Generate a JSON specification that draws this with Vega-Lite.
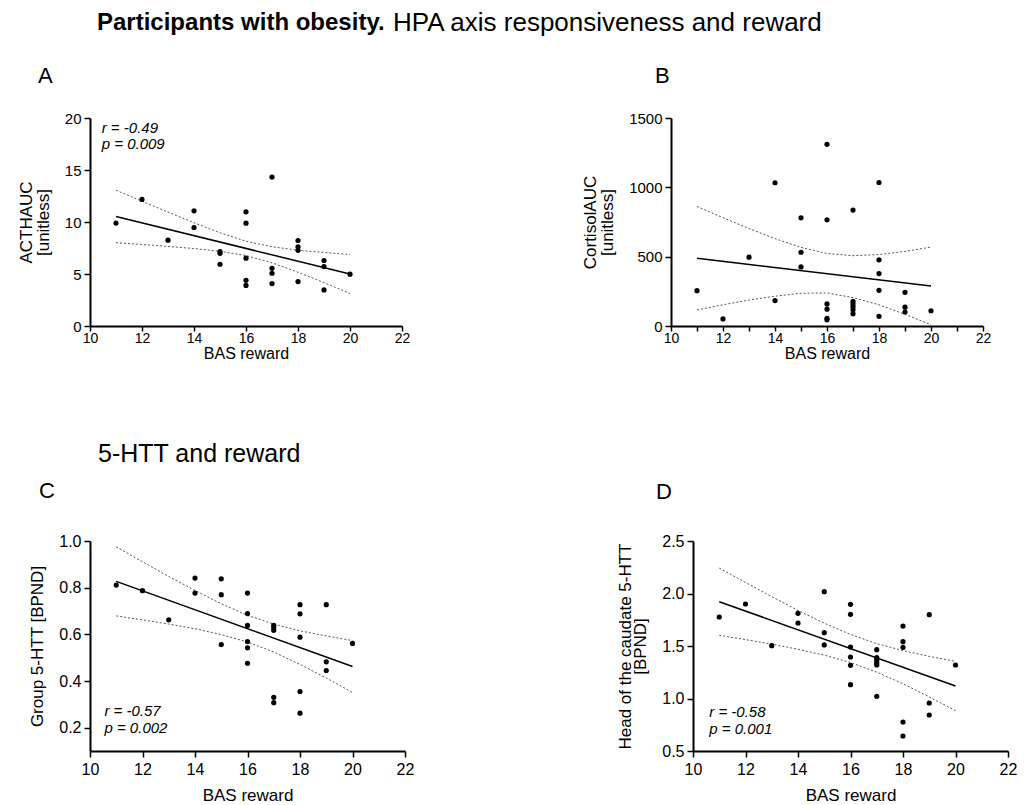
{
  "$schema": "https://vega.github.io/schema/vega-lite/v6.json",
  "padding": {"left": 17, "top": 10, "right": 5, "bottom": 5},
  "config": {
    "font": "Liberation Sans",
    "view": {"stroke": null},
    "axis": {"domainColor": "#000", "domainWidth": 2, "tickColor": "#000", "tickWidth": 1.5, "tickSize": 6, "labelColor": "#000", "titleColor": "#000", "labelFontSize": 15, "titleFontSize": 17, "titleFontWeight": "normal", "grid": false, "labelFlush": false, "labelOverlap": false, "labelPadding": 3},
    "title": {"color": "#000", "fontWeight": "normal", "anchor": "start", "frame": "group"}
  },
  "datasets": {
    "notes": [
      {"panel": "A", "t": "r = -0.49\np = 0.009"},
      {"panel": "C", "t": "r = -0.57\np = 0.002"},
      {"panel": "D", "t": "r = -0.58\np = 0.001"}
    ],
    "A": [
      {"x": 11, "y": 9.9, "s": "pt"}, {"x": 12, "y": 12.17, "s": "pt"}, {"x": 13, "y": 8.25, "s": "pt"},
      {"x": 14, "y": 11.07, "s": "pt"}, {"x": 14, "y": 9.47, "s": "pt"},
      {"x": 15, "y": 7.16, "s": "pt"}, {"x": 15, "y": 6.97, "s": "pt"}, {"x": 15, "y": 5.94, "s": "pt"},
      {"x": 16, "y": 10.98, "s": "pt"}, {"x": 16, "y": 9.89, "s": "pt"}, {"x": 16, "y": 6.52, "s": "pt"}, {"x": 16, "y": 4.4, "s": "pt"}, {"x": 16, "y": 3.9, "s": "pt"},
      {"x": 17, "y": 14.32, "s": "pt"}, {"x": 17, "y": 5.55, "s": "pt"}, {"x": 17, "y": 5.07, "s": "pt"}, {"x": 17, "y": 4.08, "s": "pt"},
      {"x": 18, "y": 8.22, "s": "pt"}, {"x": 18, "y": 7.61, "s": "pt"}, {"x": 18, "y": 7.28, "s": "pt"}, {"x": 18, "y": 4.27, "s": "pt"},
      {"x": 19, "y": 6.3, "s": "pt"}, {"x": 19, "y": 5.71, "s": "pt"}, {"x": 19, "y": 3.47, "s": "pt"},
      {"x": 20, "y": 4.98, "s": "pt"},
      {"x": 11, "y": 10.53, "s": "fit"}, {"x": 20, "y": 5.0, "s": "fit"},
      {"x": 11, "y": 8.01, "s": "lo"}, {"x": 12, "y": 7.84, "s": "lo"}, {"x": 13, "y": 7.65, "s": "lo"}, {"x": 14, "y": 7.45, "s": "lo"}, {"x": 15, "y": 7.18, "s": "lo"}, {"x": 16, "y": 6.77, "s": "lo"}, {"x": 17, "y": 6.08, "s": "lo"}, {"x": 18, "y": 5.17, "s": "lo"}, {"x": 19, "y": 4.17, "s": "lo"}, {"x": 20, "y": 3.13, "s": "lo"},
      {"x": 11, "y": 13.05, "s": "hi"}, {"x": 12, "y": 12.0, "s": "hi"}, {"x": 13, "y": 10.95, "s": "hi"}, {"x": 14, "y": 9.93, "s": "hi"}, {"x": 15, "y": 8.96, "s": "hi"}, {"x": 16, "y": 8.15, "s": "hi"}, {"x": 17, "y": 7.62, "s": "hi"}, {"x": 18, "y": 7.29, "s": "hi"}, {"x": 19, "y": 7.07, "s": "hi"}, {"x": 20, "y": 6.87, "s": "hi"}
    ],
    "B": [
      {"x": 11, "y": 255, "s": "pt"}, {"x": 12, "y": 51, "s": "pt"}, {"x": 13, "y": 496, "s": "pt"},
      {"x": 14, "y": 1033, "s": "pt"}, {"x": 14, "y": 183, "s": "pt"},
      {"x": 15, "y": 780, "s": "pt"}, {"x": 15, "y": 532, "s": "pt"}, {"x": 15, "y": 426, "s": "pt"},
      {"x": 16, "y": 1310, "s": "pt"}, {"x": 16, "y": 766, "s": "pt"}, {"x": 16, "y": 159, "s": "pt"}, {"x": 16, "y": 121, "s": "pt"}, {"x": 16, "y": 55, "s": "pt"}, {"x": 16, "y": 45, "s": "pt"},
      {"x": 17, "y": 836, "s": "pt"}, {"x": 17, "y": 178, "s": "pt"}, {"x": 17, "y": 160, "s": "pt"}, {"x": 17, "y": 140, "s": "pt"}, {"x": 17, "y": 118, "s": "pt"}, {"x": 17, "y": 88, "s": "pt"},
      {"x": 18, "y": 1035, "s": "pt"}, {"x": 18, "y": 477, "s": "pt"}, {"x": 18, "y": 378, "s": "pt"}, {"x": 18, "y": 257, "s": "pt"}, {"x": 18, "y": 70, "s": "pt"},
      {"x": 19, "y": 243, "s": "pt"}, {"x": 19, "y": 136, "s": "pt"}, {"x": 19, "y": 101, "s": "pt"},
      {"x": 20, "y": 110, "s": "pt"},
      {"x": 11, "y": 489, "s": "fit"}, {"x": 20, "y": 289, "s": "fit"},
      {"x": 11, "y": 116, "s": "lo"}, {"x": 12, "y": 153, "s": "lo"}, {"x": 13, "y": 187, "s": "lo"}, {"x": 14, "y": 215, "s": "lo"}, {"x": 15, "y": 236, "s": "lo"}, {"x": 16, "y": 238, "s": "lo"}, {"x": 17, "y": 205, "s": "lo"}, {"x": 18, "y": 153, "s": "lo"}, {"x": 19, "y": 84, "s": "lo"}, {"x": 20, "y": 9, "s": "lo"},
      {"x": 11, "y": 862, "s": "hi"}, {"x": 12, "y": 781, "s": "hi"}, {"x": 13, "y": 703, "s": "hi"}, {"x": 14, "y": 630, "s": "hi"}, {"x": 15, "y": 567, "s": "hi"}, {"x": 16, "y": 523, "s": "hi"}, {"x": 17, "y": 507, "s": "hi"}, {"x": 18, "y": 515, "s": "hi"}, {"x": 19, "y": 538, "s": "hi"}, {"x": 20, "y": 569, "s": "hi"}
    ],
    "C": [
      {"x": 11, "y": 0.811, "s": "pt"}, {"x": 12, "y": 0.787, "s": "pt"}, {"x": 13, "y": 0.662, "s": "pt"},
      {"x": 14, "y": 0.841, "s": "pt"}, {"x": 14, "y": 0.777, "s": "pt"},
      {"x": 15, "y": 0.838, "s": "pt"}, {"x": 15, "y": 0.77, "s": "pt"}, {"x": 15, "y": 0.556, "s": "pt"},
      {"x": 16, "y": 0.777, "s": "pt"}, {"x": 16, "y": 0.689, "s": "pt"}, {"x": 16, "y": 0.638, "s": "pt"}, {"x": 16, "y": 0.569, "s": "pt"}, {"x": 16, "y": 0.542, "s": "pt"}, {"x": 16, "y": 0.476, "s": "pt"},
      {"x": 17, "y": 0.639, "s": "pt"}, {"x": 17, "y": 0.629, "s": "pt"}, {"x": 17, "y": 0.617, "s": "pt"}, {"x": 17, "y": 0.33, "s": "pt"}, {"x": 17, "y": 0.307, "s": "pt"},
      {"x": 18, "y": 0.727, "s": "pt"}, {"x": 18, "y": 0.688, "s": "pt"}, {"x": 18, "y": 0.588, "s": "pt"}, {"x": 18, "y": 0.355, "s": "pt"}, {"x": 18, "y": 0.262, "s": "pt"},
      {"x": 19, "y": 0.727, "s": "pt"}, {"x": 19, "y": 0.482, "s": "pt"}, {"x": 19, "y": 0.445, "s": "pt"},
      {"x": 20, "y": 0.561, "s": "pt"},
      {"x": 11, "y": 0.827, "s": "fit"}, {"x": 20, "y": 0.462, "s": "fit"},
      {"x": 11, "y": 0.679, "s": "lo"}, {"x": 12, "y": 0.662, "s": "lo"}, {"x": 13, "y": 0.644, "s": "lo"}, {"x": 14, "y": 0.624, "s": "lo"}, {"x": 15, "y": 0.599, "s": "lo"}, {"x": 16, "y": 0.567, "s": "lo"}, {"x": 17, "y": 0.524, "s": "lo"}, {"x": 18, "y": 0.471, "s": "lo"}, {"x": 19, "y": 0.413, "s": "lo"}, {"x": 20, "y": 0.351, "s": "lo"},
      {"x": 11, "y": 0.975, "s": "hi"}, {"x": 12, "y": 0.911, "s": "hi"}, {"x": 13, "y": 0.848, "s": "hi"}, {"x": 14, "y": 0.788, "s": "hi"}, {"x": 15, "y": 0.731, "s": "hi"}, {"x": 16, "y": 0.681, "s": "hi"}, {"x": 17, "y": 0.644, "s": "hi"}, {"x": 18, "y": 0.615, "s": "hi"}, {"x": 19, "y": 0.593, "s": "hi"}, {"x": 20, "y": 0.573, "s": "hi"}
    ],
    "D": [
      {"x": 11, "y": 1.776, "s": "pt"}, {"x": 12, "y": 1.9, "s": "pt"}, {"x": 13, "y": 1.503, "s": "pt"},
      {"x": 14, "y": 1.811, "s": "pt"}, {"x": 14, "y": 1.719, "s": "pt"},
      {"x": 15, "y": 2.017, "s": "pt"}, {"x": 15, "y": 1.627, "s": "pt"}, {"x": 15, "y": 1.51, "s": "pt"},
      {"x": 16, "y": 1.897, "s": "pt"}, {"x": 16, "y": 1.802, "s": "pt"}, {"x": 16, "y": 1.49, "s": "pt"}, {"x": 16, "y": 1.395, "s": "pt"}, {"x": 16, "y": 1.316, "s": "pt"}, {"x": 16, "y": 1.132, "s": "pt"},
      {"x": 17, "y": 1.465, "s": "pt"}, {"x": 17, "y": 1.389, "s": "pt"}, {"x": 17, "y": 1.363, "s": "pt"}, {"x": 17, "y": 1.338, "s": "pt"}, {"x": 17, "y": 1.319, "s": "pt"}, {"x": 17, "y": 1.021, "s": "pt"},
      {"x": 18, "y": 1.69, "s": "pt"}, {"x": 18, "y": 1.541, "s": "pt"}, {"x": 18, "y": 1.487, "s": "pt"}, {"x": 18, "y": 0.776, "s": "pt"}, {"x": 18, "y": 0.643, "s": "pt"},
      {"x": 19, "y": 1.798, "s": "pt"}, {"x": 19, "y": 0.957, "s": "pt"}, {"x": 19, "y": 0.843, "s": "pt"},
      {"x": 20, "y": 1.319, "s": "pt"},
      {"x": 11, "y": 1.922, "s": "fit"}, {"x": 20, "y": 1.119, "s": "fit"},
      {"x": 11, "y": 1.602, "s": "lo"}, {"x": 12, "y": 1.561, "s": "lo"}, {"x": 13, "y": 1.518, "s": "lo"}, {"x": 14, "y": 1.469, "s": "lo"}, {"x": 15, "y": 1.413, "s": "lo"}, {"x": 16, "y": 1.342, "s": "lo"}, {"x": 17, "y": 1.251, "s": "lo"}, {"x": 18, "y": 1.14, "s": "lo"}, {"x": 19, "y": 1.015, "s": "lo"}, {"x": 20, "y": 0.884, "s": "lo"},
      {"x": 11, "y": 2.242, "s": "hi"}, {"x": 12, "y": 2.105, "s": "hi"}, {"x": 13, "y": 1.97, "s": "hi"}, {"x": 14, "y": 1.839, "s": "hi"}, {"x": 15, "y": 1.717, "s": "hi"}, {"x": 16, "y": 1.61, "s": "hi"}, {"x": 17, "y": 1.523, "s": "hi"}, {"x": 18, "y": 1.456, "s": "hi"}, {"x": 19, "y": 1.401, "s": "hi"}, {"x": 20, "y": 1.354, "s": "hi"}
    ]
  },
  "title": {"text": "Participants with obesity.", "fontWeight": "bold", "fontSize": 24, "dx": 7, "offset": -44, "baseline": "alphabetic"},
  "bounds": "flush",
  "spacing": 423,
  "vconcat": [
    {
      "title": {"text": "HPA axis responsiveness and reward", "fontSize": 26, "dx": 303, "offset": 8, "baseline": "alphabetic"},
      "bounds": "flush",
      "spacing": 269,
      "hconcat": [
        {
          "width": 312, "height": 208,
          "title": {"text": "A", "fontSize": 22, "dx": -52, "offset": 6, "baseline": "alphabetic"},
          "layer": [
            {
              "data": {"name": "A"},
              "encoding": {
                "x": {"field": "x", "type": "quantitative", "scale": {"domain": [10, 22], "nice": false, "zero": false}, "axis": {"title": "BAS reward", "values": [10, 11, 12, 13, 14, 15, 16, 17, 18, 19, 20, 21, 22], "labelExpr": "datum.value % 2 == 0 ? datum.label : ''", "tickSize": 5, "labelPadding": 0, "labelFontSize": 14, "titleFontSize": 16, "titlePadding": 0}},
                "y": {"field": "y", "type": "quantitative", "scale": {"domain": [0, 20], "nice": false, "zero": false}, "axis": {"title": ["ACTHAUC", "[unitless]"], "values": [0, 5, 10, 15, 20], "titlePadding": 12, "titleLineHeight": 17}}
              },
              "layer": [
                {"transform": [{"filter": "datum.s === 'lo' || datum.s === 'hi'"}], "mark": {"type": "line", "strokeDash": [2, 2], "strokeWidth": 1, "color": "#555"}, "encoding": {"detail": {"field": "s"}}},
                {"transform": [{"filter": "datum.s === 'fit'"}], "mark": {"type": "line", "strokeWidth": 1.5, "color": "#000"}},
                {"transform": [{"filter": "datum.s === 'pt'"}], "mark": {"type": "circle", "size": 27, "color": "#000", "opacity": 1}}
              ]
            },
            {"data": {"name": "notes"}, "transform": [{"filter": "datum.panel === 'A'"}], "mark": {"type": "text", "align": "left", "baseline": "top", "fontStyle": "italic", "fontSize": 15, "lineHeight": 16, "lineBreak": "\n", "color": "#000"}, "encoding": {"x": {"datum": 10.45, "type": "quantitative"}, "y": {"datum": 19.75, "type": "quantitative"}, "text": {"field": "t"}}}
          ]
        },
        {
          "width": 312, "height": 208,
          "title": {"text": "B", "fontSize": 22, "dx": -16, "offset": 6, "baseline": "alphabetic"},
          "data": {"name": "B"},
          "encoding": {
            "x": {"field": "x", "type": "quantitative", "scale": {"domain": [10, 22], "nice": false, "zero": false}, "axis": {"title": "BAS reward", "values": [10, 11, 12, 13, 14, 15, 16, 17, 18, 19, 20, 21, 22], "labelExpr": "datum.value % 2 == 0 ? datum.label : ''", "tickSize": 5, "labelPadding": 0, "labelFontSize": 14, "titleFontSize": 16, "titlePadding": 0}},
            "y": {"field": "y", "type": "quantitative", "scale": {"domain": [0, 1500], "nice": false, "zero": false}, "axis": {"title": ["CortisolAUC", "[unitless]"], "values": [0, 500, 1000, 1500], "format": "d", "titlePadding": 12, "titleLineHeight": 17}}
          },
          "layer": [
            {"transform": [{"filter": "datum.s === 'lo' || datum.s === 'hi'"}], "mark": {"type": "line", "strokeDash": [2, 2], "strokeWidth": 1, "color": "#555"}, "encoding": {"detail": {"field": "s"}}},
            {"transform": [{"filter": "datum.s === 'fit'"}], "mark": {"type": "line", "strokeWidth": 1.5, "color": "#000"}},
            {"transform": [{"filter": "datum.s === 'pt'"}], "mark": {"type": "circle", "size": 27, "color": "#000", "opacity": 1}}
          ]
        }
      ]
    },
    {
      "title": {"text": "5-HTT and reward", "fontSize": 25, "dx": 8, "offset": -7, "baseline": "alphabetic"},
      "bounds": "flush",
      "spacing": 288,
      "hconcat": [
        {
          "width": 315, "height": 210,
          "title": {"text": "C", "fontSize": 22, "dx": -51, "offset": 13, "baseline": "alphabetic"},
          "layer": [
            {
              "data": {"name": "C"},
              "encoding": {
                "x": {"field": "x", "type": "quantitative", "scale": {"domain": [10, 22], "nice": false, "zero": false}, "axis": {"title": "BAS reward", "values": [10, 11, 12, 13, 14, 15, 16, 17, 18, 19, 20, 21, 22], "labelExpr": "datum.value % 2 == 0 ? datum.label : ''", "labelPadding": 4, "labelFontSize": 16, "titlePadding": 10}},
                "y": {"field": "y", "type": "quantitative", "scale": {"domain": [0.1, 1.0], "nice": false, "zero": false}, "axis": {"title": "Group 5-HTT [BPND]", "values": [0.2, 0.4, 0.6, 0.8, 1.0], "format": ".1f", "titlePadding": 12, "labelFontSize": 16}}
              },
              "layer": [
                {"transform": [{"filter": "datum.s === 'lo' || datum.s === 'hi'"}], "mark": {"type": "line", "strokeDash": [2, 2], "strokeWidth": 1, "color": "#555"}, "encoding": {"detail": {"field": "s"}}},
                {"transform": [{"filter": "datum.s === 'fit'"}], "mark": {"type": "line", "strokeWidth": 1.5, "color": "#000"}},
                {"transform": [{"filter": "datum.s === 'pt'"}], "mark": {"type": "circle", "size": 27, "color": "#000", "opacity": 1}}
              ]
            },
            {"data": {"name": "notes"}, "transform": [{"filter": "datum.panel === 'C'"}], "mark": {"type": "text", "align": "left", "baseline": "top", "fontStyle": "italic", "fontSize": 15, "lineHeight": 17, "lineBreak": "\n", "color": "#000"}, "encoding": {"x": {"datum": 10.55, "type": "quantitative"}, "y": {"datum": 0.3, "type": "quantitative"}, "text": {"field": "t"}}}
          ]
        },
        {
          "width": 315, "height": 210,
          "title": {"text": "D", "fontSize": 22, "dx": -37, "offset": 12, "baseline": "alphabetic"},
          "layer": [
            {
              "data": {"name": "D"},
              "encoding": {
                "x": {"field": "x", "type": "quantitative", "scale": {"domain": [10, 22], "nice": false, "zero": false}, "axis": {"title": "BAS reward", "values": [10, 11, 12, 13, 14, 15, 16, 17, 18, 19, 20, 21, 22], "labelExpr": "datum.value % 2 == 0 ? datum.label : ''", "labelPadding": 4, "labelFontSize": 16, "titlePadding": 10}},
                "y": {"field": "y", "type": "quantitative", "scale": {"domain": [0.5, 2.5], "nice": false, "zero": false}, "axis": {"title": ["Head of the caudate 5-HTT", "[BPND]"], "values": [0.5, 1.0, 1.5, 2.0, 2.5], "format": ".1f", "titlePadding": 12, "titleLineHeight": 15, "labelFontSize": 16}}
              },
              "layer": [
                {"transform": [{"filter": "datum.s === 'lo' || datum.s === 'hi'"}], "mark": {"type": "line", "strokeDash": [2, 2], "strokeWidth": 1, "color": "#555"}, "encoding": {"detail": {"field": "s"}}},
                {"transform": [{"filter": "datum.s === 'fit'"}], "mark": {"type": "line", "strokeWidth": 1.5, "color": "#000"}},
                {"transform": [{"filter": "datum.s === 'pt'"}], "mark": {"type": "circle", "size": 27, "color": "#000", "opacity": 1}}
              ]
            },
            {"data": {"name": "notes"}, "transform": [{"filter": "datum.panel === 'D'"}], "mark": {"type": "text", "align": "left", "baseline": "top", "fontStyle": "italic", "fontSize": 15, "lineHeight": 17, "lineBreak": "\n", "color": "#000"}, "encoding": {"x": {"datum": 10.62, "type": "quantitative"}, "y": {"datum": 0.94, "type": "quantitative"}, "text": {"field": "t"}}}
          ]
        }
      ]
    }
  ]
}
